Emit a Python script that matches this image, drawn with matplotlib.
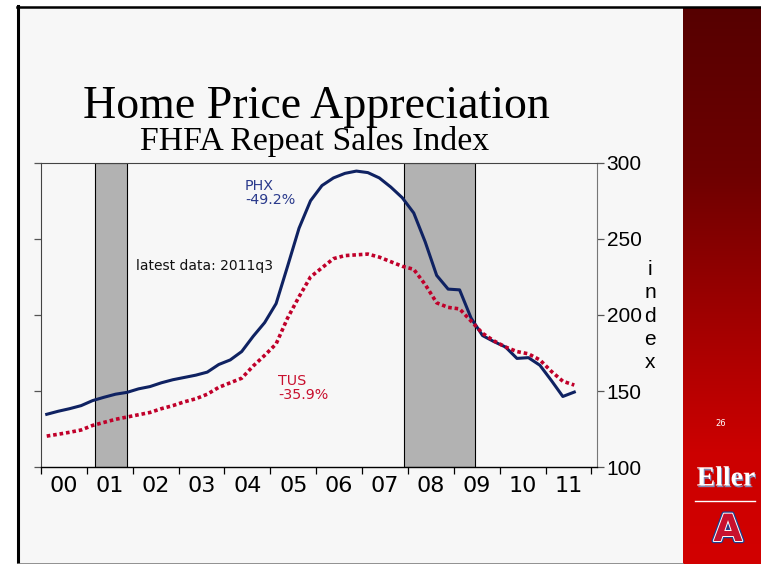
import numpy as np
import matplotlib
matplotlib.use('Agg')
import matplotlib.pyplot as plt
import matplotlib.patheffects as pe
from matplotlib.colors import LinearSegmentedColormap
from matplotlib.lines import Line2D
from matplotlib.patches import Rectangle

# Quarterly FHFA index, 2000q1 .. 2011q3
phx = [134.8, 136.8, 138.5, 140.5,
       143.8, 146.0, 148.0, 149.2,
       151.5, 153.0, 155.5, 157.5,
       159.0, 160.5, 162.5, 167.5,
       170.5, 176.0, 186.0, 195.0,
       207.5, 232.0, 257.0, 275.0,
       285.0, 290.0, 293.0, 294.5,
       293.5, 290.0, 284.0, 277.0,
       267.0, 248.0, 226.0, 217.0,
       216.5, 198.0, 186.5, 182.5,
       179.0, 171.5, 172.0, 167.0,
       157.0, 146.5, 149.4]
tus = [120.5, 121.7, 123.0, 124.5,
       127.5, 129.5, 131.5, 133.0,
       134.5, 136.0, 138.5, 140.5,
       143.0, 145.0, 148.0, 152.5,
       155.5, 158.5, 166.5, 173.5,
       181.0, 198.0, 212.0, 225.0,
       231.0, 237.0, 239.0, 239.5,
       240.0, 238.0, 235.0, 232.0,
       230.0, 220.0, 208.0, 205.0,
       204.0, 196.0, 188.0, 183.0,
       179.0, 176.0, 174.5, 170.5,
       163.0, 156.5, 154.0]
year_labels = ['00', '01', '02', '03', '04', '05', '06', '07', '08', '09', '10', '11']
recessions = [(2001.17, 2001.88), (2007.92, 2009.46)]
y_ticks = [100, 150, 200, 250, 300]

W, H = 761, 564
BG = '#f7f7f7'
NAVY = '#0f2262'
RED = '#c0002a'


def fx(x):
    return x / W


def fy(y):
    return 1 - y / H


fig = plt.figure(figsize=(W / 100, H / 100), dpi=100, facecolor='white')

# slide background and borders
fig.add_artist(Rectangle((fx(18), 0), fx(683 - 18), fy(7), transform=fig.transFigure,
                         facecolor=BG, edgecolor='none', zorder=0))

# red band on the right
band = fig.add_axes([fx(683), 0, fx(W - 683), fy(7)])
band_cmap = LinearSegmentedColormap.from_list(
    'band', [(0, '#560000'), (0.3, '#6e0000'), (0.65, '#b20000'), (0.8, '#cc0000'), (1, '#d20000')])
band.imshow(np.linspace(0, 1, 256)[:, None], cmap=band_cmap, aspect='auto', extent=[0, 1, 0, 1])
band.set_axis_off()

fig.add_artist(Line2D([fx(18), fx(18)], [0, fy(6)], color='black', lw=2.2, zorder=5))
fig.add_artist(Line2D([fx(17), 1], [fy(6.5), fy(6.5)], color='black', lw=1.8, zorder=5))
fig.add_artist(Line2D([fx(18), fx(683)], [fy(563.5), fy(563.5)], color='#808080', lw=1.2, zorder=5))

fig.text(fx(721), fy(423), '26', color='white', fontsize=6, ha='center', va='center',
         family='DejaVu Sans')
fig.text(fx(726), fy(479), 'Eller', color='white', fontsize=20, fontweight='bold',
         family='Liberation Serif', ha='center', va='center',
         path_effects=[pe.SimplePatchShadow(offset=(0.8, -1.2), shadow_rgbFace='#7d8bb8', alpha=1),
                       pe.Normal()])
fig.add_artist(Line2D([fx(695), fx(755)], [fy(501), fy(501)], color='white', lw=1))
fig.text(fx(728), fy(531), 'A', color='#c8102e', fontsize=27, fontweight='bold',
         family='DejaVu Sans', ha='center', va='center',
         path_effects=[pe.Stroke(linewidth=3.2, foreground='#1b3f8f'),
                       pe.Stroke(linewidth=1.4, foreground='white'), pe.Normal()])

# titles
fig.text(fx(316), fy(118), 'Home Price Appreciation', fontsize=33, family='Liberation Serif',
         ha='center', va='baseline')
fig.text(fx(315), fy(150), 'FHFA Repeat Sales Index', fontsize=24.3, family='Liberation Serif',
         ha='center', va='baseline')

# chart
ax = fig.add_axes([fx(41), fy(467.3), fx(597 - 41), fy(162.7) - fy(467.3)])
ax.set_facecolor(BG)
x = 2000 + (np.arange(len(phx)) + 0.5) / 4

for a, b in recessions:
    ax.axvspan(a, b, facecolor='#b2b2b2', edgecolor='black', lw=0.8, zorder=1)

ax.plot(x, phx, color=NAVY, lw=2.2, zorder=3, solid_joinstyle='round')
ax.plot(x, tus, color=RED, lw=2.6, linestyle=(0, (1, 0.8)), dash_capstyle='butt', zorder=3)

ax.set_xlim(2000, 2012.12)
ax.set_ylim(100, 300)
ax.set_xticks(np.arange(2000, 2013))
ax.set_xticklabels([])
ax.set_xticks(np.arange(2000, 2012) + 0.5, minor=True)
ax.set_xticklabels(year_labels, minor=True, family='DejaVu Sans', fontsize=16)
ax.tick_params(axis='x', which='major', direction='out', length=5, width=0.9, color='black')
ax.tick_params(axis='x', which='minor', length=0, pad=6)

ax.set_yticks(y_ticks)
ax.tick_params(axis='y', which='both', left=True, right=True, labelleft=False, labelright=True,
               direction='out', length=5, width=0.9, colors='#555555', labelcolor='black',
               labelsize=15, pad=2)
for lab in ax.get_yticklabels():
    lab.set_family('Liberation Sans')

ax.spines['bottom'].set_color('black')
ax.spines['bottom'].set_linewidth(1.0)
ax.spines['left'].set_color('#444444')
ax.spines['top'].set_color('#444444')
ax.spines['right'].set_color('#777777')
for s in ax.spines.values():
    s.set_zorder(4)

fig.text(fx(650), fy(316), '\n'.join('index'), fontsize=15, family='Liberation Sans',
         ha='center', va='center', linespacing=1.28)

ax.text(fx(136), fy(266), 'latest data: 2011q3', transform=fig.transFigure, fontsize=10,
        family='DejaVu Sans', color='#111111', va='center', ha='left')
ax.text(fx(245), fy(193), 'PHX\n-49.2%', transform=fig.transFigure, fontsize=10.3,
        family='DejaVu Sans', color='#2a3a8c', va='center', ha='left', linespacing=1.05)
ax.text(fx(278), fy(388), 'TUS\n-35.9%', transform=fig.transFigure, fontsize=10.3,
        family='DejaVu Sans', color='#c8102e', va='center', ha='left', linespacing=1.05)

fig.savefig('out.png', dpi=100, facecolor='white')
